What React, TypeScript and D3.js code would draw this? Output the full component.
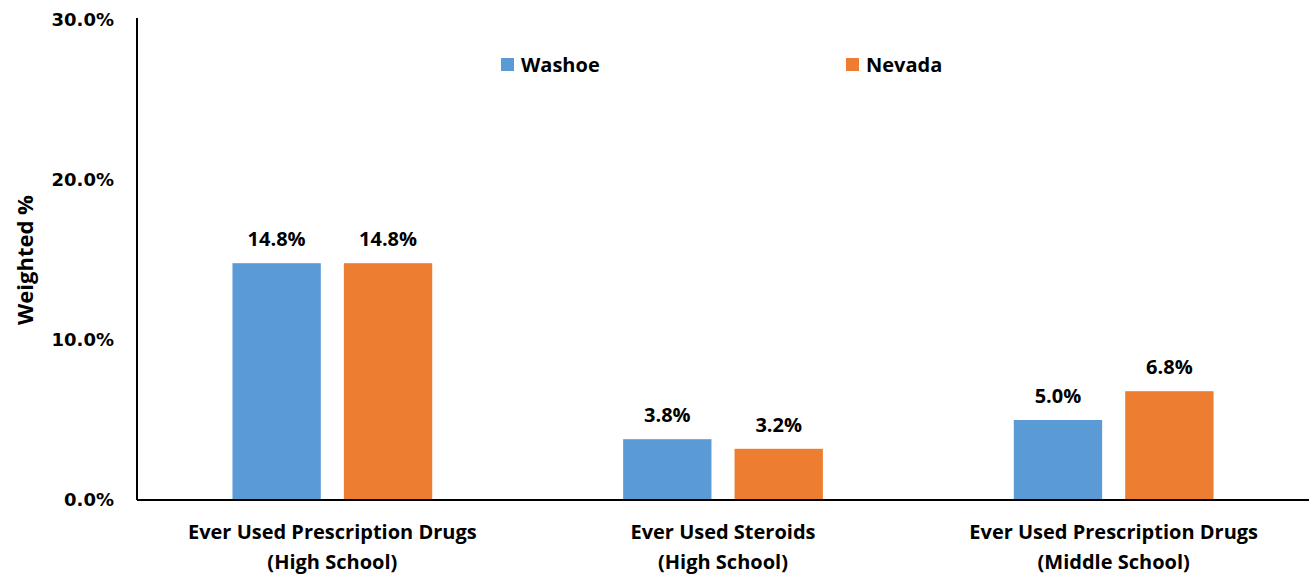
import React from "react";
import * as d3 from "d3";

const categories = [
  ["Ever Used Prescription Drugs", "(High School)"],
  ["Ever Used Steroids", "(High School)"],
  ["Ever Used Prescription Drugs", "(Middle School)"],
];
const seriesNames = ["Washoe", "Nevada"];
const washoe = [14.8, 3.8, 5.0];
const nevada = [14.8, 3.2, 6.8];
const yTicks = [0, 10, 20, 30];
const colors = ["#5B9BD5", "#ED7D31"];

const W = 1312;
const H = 577;
const left = 137;
const right = 1309;
const top = 20;
const bottom = 500;
const LABEL_FONT = "'Open Sans', Lato, sans-serif";

export default function App() {
  const x = d3
    .scaleBand<number>()
    .domain(d3.range(categories.length))
    .range([left, right])
    .paddingInner(0)
    .paddingOuter(0);
  const y = d3.scaleLinear().domain([0, 30]).range([bottom, top]);
  const sub = d3
    .scaleBand<number>()
    .domain([0, 1])
    .range([0, x.bandwidth()])
    .paddingInner(0.207)
    .paddingOuter(0.857);
  const series = [washoe, nevada];

  return (
    <svg
      width={W}
      height={H}
      style={{ display: "block", position: "absolute", left: 0, top: 0 }}
    >
      <rect width={W} height={H} fill="#fff" />
      {series.map((vals, si) =>
        vals.map((v, ci) => {
          const bx = (x(ci) as number) + (sub(si) as number);
          return (
            <g key={`${si}-${ci}`}>
              <rect
                x={bx}
                y={y(v)}
                width={sub.bandwidth()}
                height={bottom - y(v)}
                fill={colors[si]}
              />
              <text
                x={bx + sub.bandwidth() / 2}
                y={y(v) - 17}
                textAnchor="middle"
                fontFamily={LABEL_FONT}
                fontWeight="bold"
                fontSize={20}
                fill="#000"
              >
                {v.toFixed(1) + "%"}
              </text>
            </g>
          );
        })
      )}
      {/* axes */}
      <line x1={left} x2={left} y1={top - 2} y2={bottom} stroke="#000" strokeWidth={2} />
      <line x1={left} x2={right} y1={bottom} y2={bottom} stroke="#000" strokeWidth={2} />
      {yTicks.map((t) => (
        <text
          key={t}
          x={114}
          y={y(t) + 6}
          textAnchor="end"
          fontFamily="'DejaVu Sans', sans-serif"
          fontWeight="bold"
          fontSize={18}
          fill="#000"
        >
          {t.toFixed(1) + "%"}
        </text>
      ))}
      {categories.map((lines, ci) => {
        const cx = (x(ci) as number) + x.bandwidth() / 2;
        return (
          <text
            key={ci}
            textAnchor="middle"
            fontFamily={LABEL_FONT}
            fontWeight="bold"
            fontSize={20}
            fill="#000"
          >
            <tspan x={cx} y={539}>
              {lines[0]}
            </tspan>
            <tspan x={cx} y={569}>
              {lines[1]}
            </tspan>
          </text>
        );
      })}
      <text
        transform={`translate(33,260) rotate(-90)`}
        textAnchor="middle"
        fontFamily={LABEL_FONT}
        fontWeight="bold"
        fontSize={22}
        fill="#000"
      >
        Weighted %
      </text>
      {/* legend */}
      {seriesNames.map((n, i) => {
        const lx = [501, 846][i];
        return (
          <g key={n}>
            <rect x={lx} y={58} width={13} height={13} fill={colors[i]} />
            <text
              x={lx + 20}
              y={72}
              fontFamily={LABEL_FONT}
              fontWeight="bold"
              fontSize={20}
              fill="#000"
            >
              {n}
            </text>
          </g>
        );
      })}
    </svg>
  );
}
